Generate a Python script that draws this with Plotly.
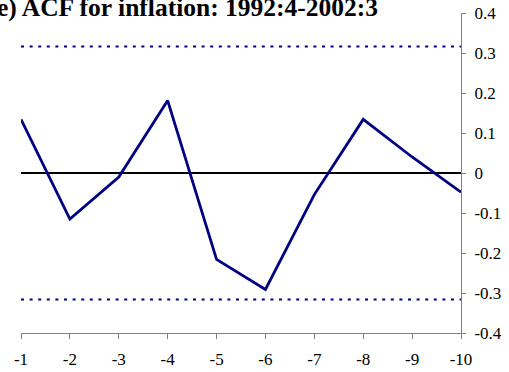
import plotly.graph_objects as go

# Autocorrelation of inflation at lags -1 ... -10
lags = ["-1", "-2", "-3", "-4", "-5", "-6", "-7", "-8", "-9", "-10"]
acf = [0.134, -0.115, -0.010, 0.181, -0.216, -0.291, -0.054, 0.134, 0.040, -0.048]
# +/- two standard error band
band_upper = [0.316] * len(lags)
band_lower = [-0.316] * len(lags)

y_ticks = [0.4, 0.3, 0.2, 0.1, 0.0, -0.1, -0.2, -0.3, -0.4]
y_tick_text = ["0.4", "0.3", "0.2", "0.1", "0", "-0.1", "-0.2", "-0.3", "-0.4"]

title_text = "e) ACF for inflation: 1992:4-2002:3"

navy = "#000080"
axis_grey = "#808080"
serif = "Liberation Serif"

fig = go.Figure()
for band in (band_upper, band_lower):
    fig.add_trace(go.Scatter(
        x=lags, y=band, mode="lines",
        line=dict(color=navy, width=2, dash="3px,5.6px"),
        hoverinfo="skip", showlegend=False,
    ))
fig.add_trace(go.Scatter(
    x=lags, y=acf, mode="lines",
    line=dict(color=navy, width=2.8),
    showlegend=False,
))

fig.update_layout(
    width=509, height=372,
    margin=dict(l=21, r=48, t=13, b=39, autoexpand=False),
    paper_bgcolor="white", plot_bgcolor="white",
    font=dict(family=serif, size=17, color="black"),
    showlegend=False,
    annotations=[dict(
        text=title_text, xref="paper", yref="paper",
        x=(380 - 21) / 440, y=1.0, xanchor="right", yanchor="bottom",
        yshift=-11, showarrow=False,
        font=dict(family=serif, size=25.5, color="black", weight="bold"),
    )],
)
fig.update_xaxes(
    type="category", range=[0, 9], automargin=False,
    showgrid=False, zeroline=False,
    showline=True, linecolor=axis_grey, linewidth=1,
    ticks="outside", ticklen=5, tickcolor=axis_grey, tickwidth=1,
    ticklabelstandoff=6,
    tickfont=dict(family=serif, size=17, color="black"),
)
fig.update_yaxes(
    side="right", range=[-0.4, 0.4], automargin=False,
    tickmode="array", tickvals=y_ticks, ticktext=y_tick_text,
    showgrid=False,
    zeroline=True, zerolinecolor="black", zerolinewidth=1.5,
    showline=True, linecolor=axis_grey, linewidth=1,
    ticks="outside", ticklen=4, tickcolor=axis_grey, tickwidth=1,
    ticklabelstandoff=5,
    tickfont=dict(family=serif, size=17, color="black"),
)

fig.write_html("out.html")
